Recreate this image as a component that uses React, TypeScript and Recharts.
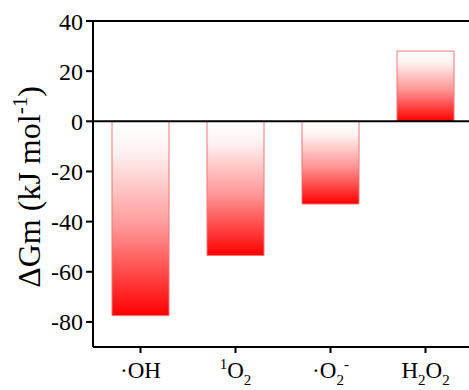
import React from "react";
import { BarChart, Bar, XAxis, YAxis, ReferenceLine } from "recharts";

// categorias y valores
const species = ["·OH", "¹O₂", "·O₂⁻", "H₂O₂"];
const deltaGm = [-77.5, -53.5, -33, 28];
const yTicks = [-80, -60, -40, -20, 0, 20, 40];

// partes de cada etiqueta: [texto, tipo] con tipo "n" normal, "sub", "sup"
const tickParts: [string, string][][] = [
  [["·OH", "n"]],
  [["1", "sup"], ["O", "n"], ["2", "sub"]],
  [["·O", "n"], ["2", "sub"], ["-", "sup"]],
  [["H", "n"], ["2", "sub"], ["O", "n"], ["2", "sub"]],
];

const data = species.map((s, i) => ({ name: s, value: deltaGm[i], idx: i }));

const FONT = '"Liberation Serif", "Times New Roman", serif';

const SpeciesTick = (props: any) => {
  const { x, y, index } = props;
  const parts = tickParts[index] || [];
  let shift = 0;
  return (
    <text x={x} y={y + 23} textAnchor="middle" fontFamily={FONT} fontSize={23} fill="#000">
      {parts.map(([t, kind], k) => {
        let dy = 0;
        if (kind === "sub") dy = 7 - shift;
        else if (kind === "sup") dy = -9 - shift;
        else dy = -shift;
        shift += dy;
        return (
          <tspan key={k} dy={dy} fontSize={kind === "n" ? 23 : 15}>
            {t}
          </tspan>
        );
      })}
    </text>
  );
};

const YLabel = (props: any) => {
  const vb = props.viewBox || { x: 0, y: 21, height: 326 };
  const cx = vb.x + 40;
  const cy = 187;
  return (
    <text
      x={cx}
      y={cy}
      transform={`rotate(-90, ${cx}, ${cy})`}
      textAnchor="middle"
      fontFamily={FONT}
      fontSize={32}
      fill="#000"
    >
      ΔGm (kJ mol<tspan dy={-13} fontSize={21}>-1</tspan>
      <tspan dy={13}>)</tspan>
    </text>
  );
};

export default function App() {
  return (
    <div style={{ position: "absolute", left: 0, top: 0, width: 469, height: 390, overflow: "hidden", background: "#fff" }}>
      <BarChart
        width={480}
        height={390}
        data={data}
        margin={{ top: 21, right: 7, left: 0, bottom: 0 }}
        barCategoryGap="20%"
      >
        <defs>
          <linearGradient id="redFade" x1="0" y1="0" x2="0" y2="1">
            <stop offset="0%" stopColor="#ffffff" />
            <stop offset="15%" stopColor="#fff4f4" />
            <stop offset="55%" stopColor="#ff9595" />
            <stop offset="100%" stopColor="#ff0000" />
          </linearGradient>
        </defs>
        <XAxis
          dataKey="name"
          height={43}
          axisLine={{ stroke: "#000", strokeWidth: 2 }}
          tickLine={{ stroke: "#000", strokeWidth: 2 }}
          tickSize={6}
          tick={<SpeciesTick />}
          interval={0}
        />
        <YAxis
          width={93}
          domain={[-90, 40]}
          ticks={yTicks}
          allowDataOverflow
          axisLine={{ stroke: "#000", strokeWidth: 2 }}
          tickLine={{ stroke: "#000", strokeWidth: 2 }}
          tickSize={7}
          tickMargin={3}
          tick={{ fill: "#000", fontSize: 24, fontFamily: FONT }}
          label={{ content: (p: any) => <YLabel {...p} /> }}
        />
        <ReferenceLine y={40} stroke="#000" strokeWidth={2} />
        <ReferenceLine y={0} stroke="#000" strokeWidth={2} />
        <Bar
          dataKey="value"
          fill="url(#redFade)"
          stroke="#e77"
          strokeWidth={1}
          isAnimationActive={false}
        />
      </BarChart>
    </div>
  );
}
